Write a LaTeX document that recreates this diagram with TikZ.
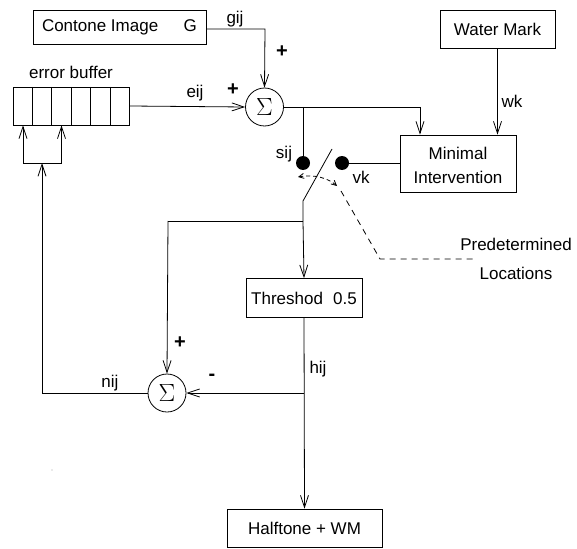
\documentclass[tikz,border=0pt]{standalone}
\usepackage{fontspec}
\setmainfont{Liberation Sans}
\newfontfamily\sigfont{Liberation Serif}
\usetikzlibrary{arrows.meta}
\begin{document}
\begin{tikzpicture}[x=1pt,y=-1pt,
  every node/.style={font=\fontsize{17}{20}\selectfont, inner sep=0pt},
  blk/.style={draw, line width=0.8pt, rectangle},
  sumc/.style={draw, line width=0.8pt, circle, minimum size=38pt, font=\sigfont\fontsize{24}{26}\selectfont},
  dotc/.style={fill, circle, minimum size=14pt},
  wire/.style={line width=0.8pt},
  arr/.style={wire, -{Straight Barb[length=12pt,width=8pt]}},
  plus/.style={font=\bfseries\fontsize{20}{22}\selectfont}]
\useasboundingbox (0,0) rectangle (577,548);
% boxes
\node[blk, minimum width=173pt, minimum height=34pt] (cont) at (119.5,27) {Contone Image\hspace{1.5em}G};
\node[blk, minimum width=115pt, minimum height=38pt] (wm) at (497.5,29) {Water Mark};
\node[blk, minimum width=116pt, minimum height=57pt] (mi) at (458,163.5) {};
\node (mi1) at (458,153) {Minimal};
\node (mi2) at (458,177.5) {Intervention};
\node[blk, minimum width=116pt, minimum height=39pt] (thr) at (304,298) {Threshod\hspace{0.6em}0.5};
\node[blk, minimum width=155pt, minimum height=38.5pt] (ht) at (304.5,528.25) {Halftone + WM};
% buffer
\node[blk, minimum width=116.5pt, minimum height=38pt] (buf) at (71.25,106) {};
\foreach \i in {1,...,5} {\draw[wire] (13+\i*19.42,87) -- (13+\i*19.42,125);}
\node at (71,72) (buflbl) {error buffer};
% sums
\node[sumc] (s1) at (264.5,107) {$\Sigma$};
\node[sumc] (s2) at (167,393) {$\Sigma$};
% switch dots
\node[dotc] (sij) at (303,163) {};
\node[dotc] (vk) at (342,163) {};
% coordinates
\coordinate (g1) at (265,29);
\coordinate (j1) at (303,107);
\coordinate (j2) at (420,107);
\coordinate (sw0) at (303,201);
\coordinate (sw1) at (332,149);
\coordinate (j3) at (303,221);
\coordinate (j4) at (168,221);
\coordinate (j5) at (304,393);
\coordinate (f1) at (42,393);
\coordinate (f2) at (42,163);
\coordinate (f3) at (23,163);
\coordinate (f4) at (61.5,163);
\coordinate (d1) at (298,177);
\coordinate (d2) at (337,186);
\coordinate (d3) at (341,191);
\coordinate (d4) at (380,259);
\coordinate (d5) at (473,259);
% connectors
\draw[arr] (cont.east |- g1) -- (g1) -- (s1.north);
\draw[arr] (buf.east) -- (s1.west);
\draw[wire] (s1.east) -- (j2);
\draw[arr] (j2) -- (j2 |- mi.north);
\draw[wire] (j1) -- (sij.center);
\draw[arr] (wm.south) -- (wm.south |- mi.north);
\draw[wire] (vk.center) -- (mi.west |- vk);
\draw[wire] (sw1) -- (sw0) -- (j3);
\draw[arr] (j3) -- (thr.north);
\draw[wire] (j3) -- (j4);
\draw[arr] (j4) -- (s2.north);
\draw[arr] (thr.south) -- (ht.north);
\draw[arr] (j5) -- (s2.east);
\draw[wire] (s2.west) -- (f1);
\draw[arr] (f1) -- (f2);
\draw[wire] (f3) -- (f4);
\draw[arr] (f3) -- (f3 |- buf.south);
\draw[arr] (f4) -- (f4 |- buf.south);
% dashed switch motion
\draw[wire, dash pattern=on 4pt off 3pt, {Straight Barb[length=5pt,width=5pt]}-{Straight Barb[length=5pt,width=5pt]}] (d1) .. controls (314,174) and (328,178) .. (d2);
\draw[wire, dash pattern=on 6pt off 5pt] (d3) -- (d4) -- (d5);
% labels
\node (lgij) at (235,19) {gij};
\node[plus] (lp1) at (282,52) {+};
\node (leij) at (195,93) {eij};
\node[plus] (lp2) at (233,90) {+};
\node (lsij) at (284,154) {sij};
\node (lwk) at (512,101) {wk};
\node (lvk) at (361,177) {vk};
\node (lpre) at (516,244) {Predetermined};
\node (lloc) at (516,273) {Locations};
\node (lhij) at (318,369) {hij};
\node[plus] (lminus) at (212,377) {-};
\node[plus] (lp3) at (180,343) {+};
\node (lnij) at (110,383) {nij};
\fill (52,470) circle (0.4pt);
\end{tikzpicture}
\end{document}
